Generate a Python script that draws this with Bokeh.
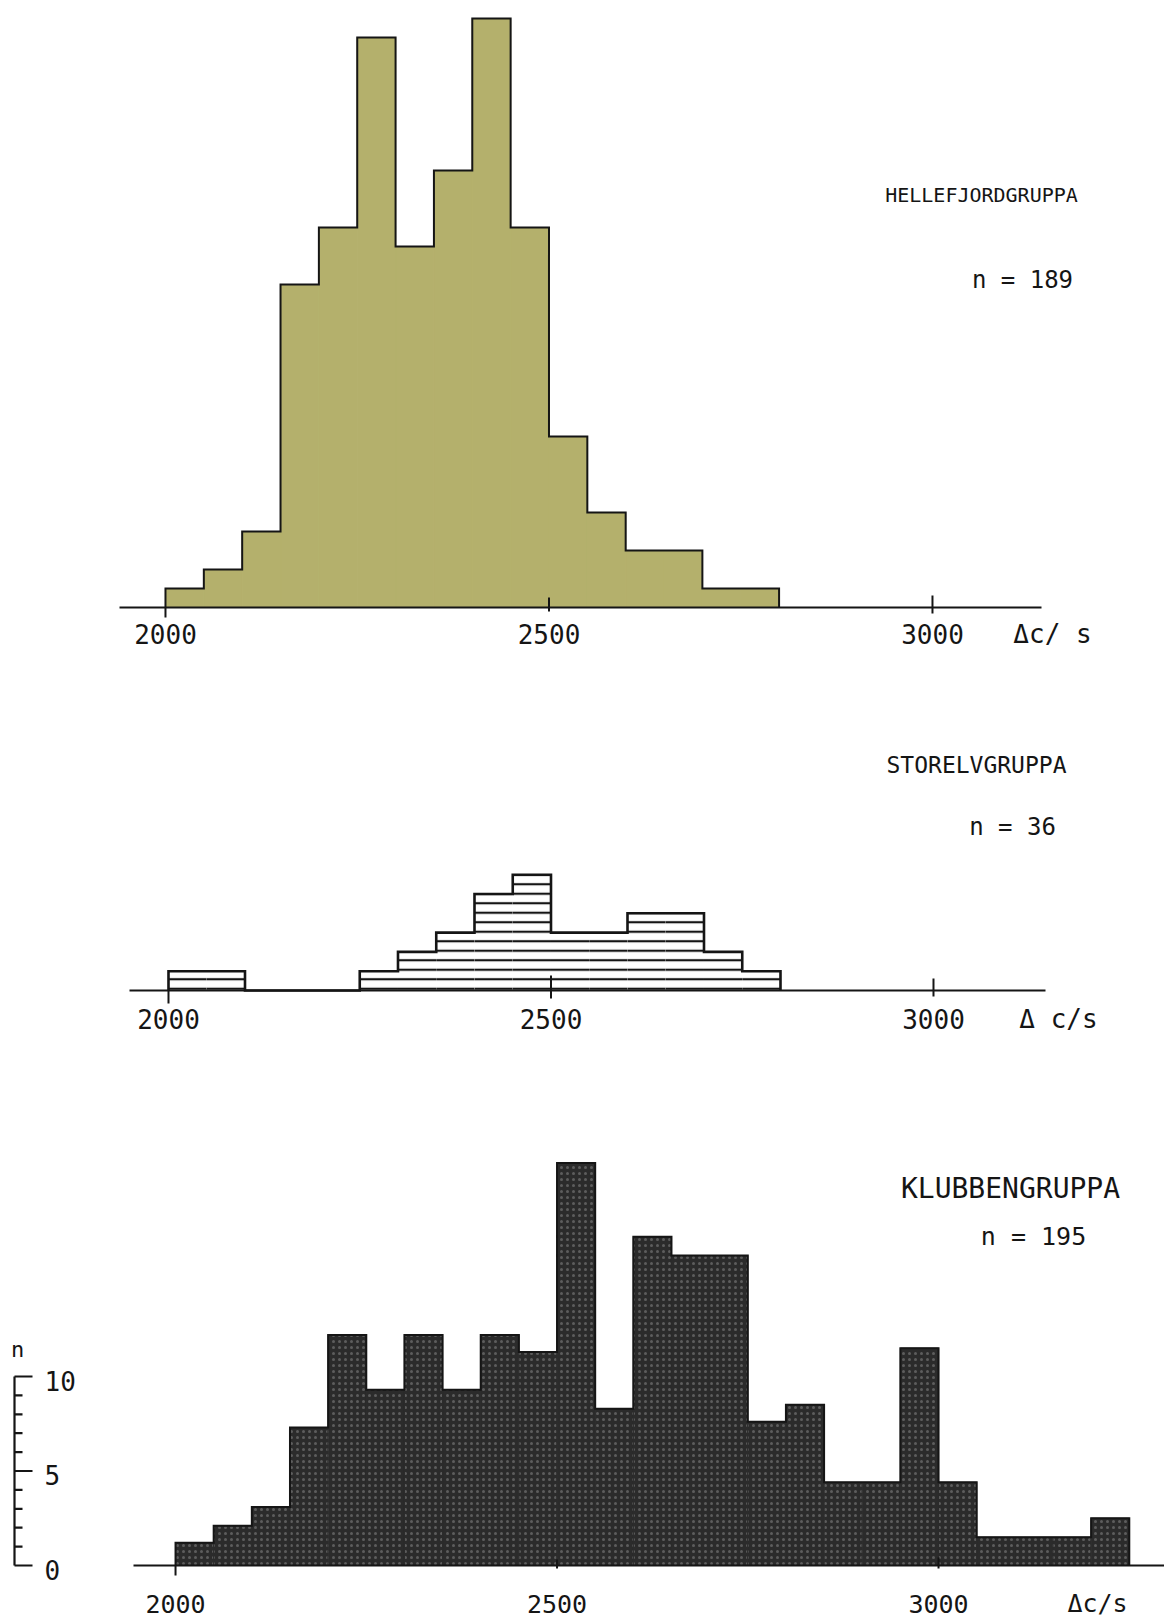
from bokeh.plotting import figure
from bokeh.layouts import column
from bokeh.models import ColumnDataSource
from bokeh.embed import file_html
from bokeh.resources import INLINE
from bokeh.core.properties import value

# ---------------- data ----------------
BIN_WIDTH = 50
x_ticks = [2000, 2500, 3000]

hel_start = 2000
hel_counts = [1, 2, 4, 17, 20, 30, 19, 23, 31, 20, 9, 5, 3, 3, 1, 1]

sto_start = 2000
sto_counts = [1, 1, 0, 0, 0, 1, 2, 3, 5, 6, 3, 3, 4, 4, 2, 1]

klu_start = 2000
klu_counts = [1.2, 2.1, 3.1, 7.3, 12.2, 9.3, 12.2, 9.3, 12.2, 11.3, 21.3, 8.3,
              17.4, 16.4, 16.4, 7.6, 8.5, 4.4, 4.4, 11.5, 4.4, 1.5, 1.5, 1.5, 2.5]

n_ticks_major = [0, 5, 10]
n_ticks_minor = [1, 2, 3, 4, 6, 7, 8, 9]

titles = ["HELLEFJORDGRUPPA", "STORELVGRUPPA", "KLUBBENGRUPPA"]
n_labels = ["n = 189", "n = 36", "n = 195"]
unit_labels = ["\u0394c/ s", "\u0394 c/s", "\u0394c/s"]

FONT = value("DejaVu Sans Mono")
PAGE_W = 1164
INK = "#151515"


class Panel:
    def __init__(self, fig_top, height, x0, sx, base_page, u):
        self.fig_top = fig_top
        self.height = height
        self.x0 = x0
        self.sx = sx
        self.base_page = base_page
        self.u = u
        base_from_top = base_page - fig_top
        xe = x0 + PAGE_W / sx
        ye = base_from_top / u
        ys = -(height - base_from_top) / u
        p = figure(width=PAGE_W, height=height, x_range=(x0, xe), y_range=(ys, ye),
                   x_axis_type=None, y_axis_type=None, toolbar_location=None,
                   output_backend="svg", min_border=0, outline_line_color=None,
                   background_fill_color="white", border_fill_color="white")
        self.p = p

    def px(self, page_x):
        return self.x0 + page_x / self.sx

    def py(self, page_y):
        return (self.base_page - page_y) / self.u

    def dy(self, pixels):
        return pixels / self.u


def draw_hist(panel, start, counts, outline_w, **fill_kw):
    p = panel.p
    left = [start + i * BIN_WIDTH for i in range(len(counts))]
    right = [l + BIN_WIDTH for l in left]
    src = ColumnDataSource(dict(left=left, right=right, top=counts,
                                bottom=[0] * len(counts)))
    p.quad(left="left", right="right", top="top", bottom="bottom", source=src, **fill_kw)
    xs = [left[0]]
    ys = [0]
    for l, r, c in zip(left, right, counts):
        xs += [l, r]
        ys += [c, c]
    xs.append(right[-1])
    ys.append(0)
    p.line(xs, ys, line_color=INK, line_width=outline_w, line_join="miter")


def draw_xaxis(panel, ax_from, ax_to, up_px, down_px, label_y, unit_label, unit_x,
               font_size="26px"):
    p = panel.p
    p.segment(x0=[panel.px(ax_from)], y0=[0], x1=[panel.px(ax_to)], y1=[0],
              line_color=INK, line_width=2)
    p.segment(x0=x_ticks, x1=x_ticks,
              y0=[panel.dy(u) for u in up_px], y1=[-panel.dy(d) for d in down_px],
              line_color=INK, line_width=2)
    p.text(x=x_ticks, y=[panel.py(label_y)] * len(x_ticks),
           text=[str(t) for t in x_ticks], text_align="center",
           text_baseline="middle", text_font=FONT, text_font_size=font_size,
           text_color=INK)
    p.text(x=[panel.px(unit_x)], y=[panel.py(label_y)], text=[unit_label],
           text_align="center", text_baseline="middle", text_font=FONT,
           text_font_size=font_size, text_color=INK)


def draw_titles(panel, title, nlab, title_xy, n_xy, title_size, n_size):
    p = panel.p
    p.text(x=[panel.px(title_xy[0])], y=[panel.py(title_xy[1])], text=[title],
           text_align="center", text_baseline="middle", text_font=FONT,
           text_font_size=title_size, text_color=INK)
    p.text(x=[panel.px(n_xy[0])], y=[panel.py(n_xy[1])], text=[nlab],
           text_align="center", text_baseline="middle", text_font=FONT,
           text_font_size=n_size, text_color=INK)


# ---------------- top: Hellefjordgruppa ----------------
top = Panel(fig_top=0, height=660, x0=1784.9, sx=0.767, base_page=607, u=19.0)
draw_hist(top, hel_start, hel_counts, 2.0, fill_color="#b4b06c", line_color="#b4b06c",
          line_width=1)
draw_xaxis(top, 119, 1041, [0, 10, 12], [10, 4, 6], 633, unit_labels[0], 1052)
draw_titles(top, titles[0], n_labels[0], (981, 194), (1022, 279), "20px", "24px")

# ---------------- middle: Storelvgruppa ----------------
mid = Panel(fig_top=660, height=390, x0=1780.4, sx=0.765, base_page=990, u=19.3)
draw_hist(mid, sto_start, sto_counts, 2.6, fill_color="white", line_color=None,
          hatch_pattern="horizontal_line", hatch_color=INK, hatch_weight=2.2,
          hatch_scale=9.5)
draw_xaxis(mid, 129, 1045, [0, 15, 12], [13, 8, 6], 1018, unit_labels[1], 1058)
draw_titles(mid, titles[1], n_labels[1], (976, 764), (1012, 826), "23px", "24px")

# ---------------- bottom: Klubbengruppa ----------------
bot = Panel(fig_top=1050, height=569, x0=1770.6, sx=0.763, base_page=1565, u=18.9)
draw_hist(bot, klu_start, klu_counts, 2.0, fill_color="#2b2b2b", line_color="#2b2b2b",
          line_width=1, hatch_pattern="dot", hatch_color="#9a9a9a", hatch_alpha=0.45,
          hatch_scale=6)
draw_xaxis(bot, 133, 1164, [0, 6, 8], [10, 3, 3], 1603, unit_labels[2], 1097,
           font_size="25px")
draw_titles(bot, titles[2], n_labels[2], (1010, 1188), (1033, 1236), "28px", "25px")

# n axis (left)
pb = bot.p
ax_x = bot.px(14)
pb.segment(x0=[ax_x], y0=[0], x1=[ax_x], y1=[10], line_color=INK, line_width=2.2)
pb.segment(x0=[ax_x] * len(n_ticks_major), y0=n_ticks_major,
           x1=[bot.px(32)] * len(n_ticks_major), y1=n_ticks_major,
           line_color=INK, line_width=2.2)
pb.segment(x0=[ax_x] * len(n_ticks_minor), y0=n_ticks_minor,
           x1=[bot.px(22)] * len(n_ticks_minor), y1=n_ticks_minor,
           line_color=INK, line_width=2.2)
pb.text(x=[bot.px(44)] * len(n_ticks_major), y=n_ticks_major,
        text=[str(t) for t in n_ticks_major], text_align="left",
        text_baseline="middle", y_offset=4, text_font=FONT, text_font_size="26px",
        text_color=INK)
pb.text(x=[bot.px(17)], y=[10], text=["n"], text_align="center",
        text_baseline="middle", y_offset=-27, text_font=FONT, text_font_size="22px",
        text_color=INK)

layout = column(top.p, mid.p, bot.p, spacing=0)
open("out.html", "w").write(file_html(layout, INLINE))
